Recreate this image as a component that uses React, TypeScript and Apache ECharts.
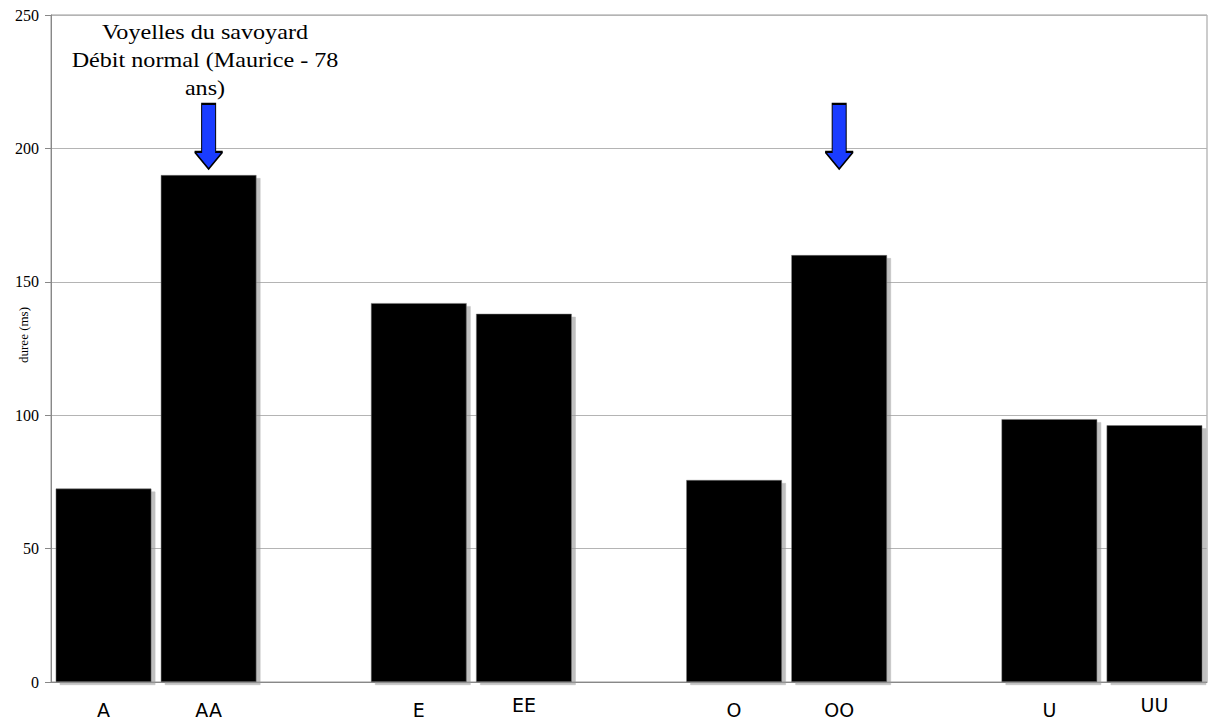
import React, { useEffect, useRef } from "react";
import * as echarts from "echarts";

const categories = ["A", "AA", " ", "E", "EE", "  ", "O", "OO", "   ", "U", "UU"];
const durations: (number | string)[] = [72.5, 190, "-", 142, 138, "-", 75.7, 160, "-", 98.5, 96.2];
const yTicks = { min: 0, max: 250, interval: 50 };
const raisedLabels = ["EE", "UU"];
const arrowCategories = ["AA", "OO"];
const arrowCenterValue = 204.5;
const titleLines = ["Voyelles du savoyard", "Débit normal (Maurice - 78", "ans)"];
const yName = "duree (ms)";

const arrowPath = "path://M7,0 L21,0 L21,48 L28,48 L14,65 L0,48 L7,48 Z";

export default function App() {
  const ref = useRef<HTMLDivElement>(null);
  useEffect(() => {
    if (!ref.current) return;
    const chart = echarts.init(ref.current, undefined, { renderer: "svg" });
    chart.setOption({
      animation: false,
      backgroundColor: "#ffffff",
      grid: {
        left: 51,
        right: 1,
        top: 15,
        bottom: 42,
        show: true,
        borderColor: "#999999",
        borderWidth: 1,
      },
      xAxis: {
        type: "category",
        data: categories,
        axisLine: { lineStyle: { color: "#888888", width: 1 } },
        axisTick: { show: false },
        axisLabel: {
          interval: 0,
          margin: 13,
          color: "#000000",
          fontFamily: "DejaVu Sans",
          fontSize: 19,
          formatter: (v: string) =>
            raisedLabels.includes(v) ? `{hi|${v}}` : `{lo|${v}}`,
          rich: {
            hi: { fontFamily: "DejaVu Sans", fontSize: 19, color: "#000", padding: [0, 0, 0, 0] },
            lo: { fontFamily: "DejaVu Sans", fontSize: 19, color: "#000", padding: [5, 0, 0, 0] },
          },
        },
      },
      yAxis: {
        type: "value",
        min: yTicks.min,
        max: yTicks.max,
        interval: yTicks.interval,
        axisLine: { show: true, lineStyle: { color: "#888888", width: 1 } },
        axisTick: { show: true, length: 6, lineStyle: { color: "#888888" } },
        axisLabel: {
          margin: 12,
          color: "#000000",
          fontFamily: "Liberation Serif",
          fontSize: 16,
        },
        splitLine: { show: true, lineStyle: { color: "#b4b4b4", width: 1 } },
      },
      series: [
        {
          type: "bar",
          data: durations,
          barCategoryGap: "9%",
          itemStyle: {
            color: "#000000",
            borderColor: "#777777",
            borderWidth: 0.5,
            shadowColor: "rgba(150,150,150,0.6)",
            shadowOffsetX: 4,
            shadowOffsetY: 3,
            shadowBlur: 1,
          },
          markPoint: {
            symbol: arrowPath,
            symbolSize: [28, 65],
            label: { show: false },
            itemStyle: {
              color: "#1a3cff",
              borderColor: "#000000",
              borderWidth: 1.5,
              borderJoin: "miter",
              shadowBlur: 0,
              shadowOffsetX: 0,
              shadowOffsetY: 0,
              shadowColor: "transparent",
            },
            data: arrowCategories.map((c) => ({ coord: [c, arrowCenterValue] })),
          },
        },
      ],
      graphic: [
        {
          type: "text",
          x: 205,
          y: 18,
          scaleX: 1.15,
          style: {
            text: titleLines.join("\n"),
            fontFamily: "Liberation Serif",
            fontSize: 21,
            lineHeight: 28,
            fill: "#000000",
            textAlign: "center",
            textVerticalAlign: "top",
          },
        },
        {
          type: "text",
          x: 23,
          y: 335,
          rotation: Math.PI / 2,
          style: {
            text: yName,
            fontFamily: "Liberation Serif",
            fontSize: 13,
            fill: "#000000",
            textAlign: "center",
            textVerticalAlign: "middle",
          },
        },
      ],
    });
    return () => chart.dispose();
  }, []);
  return (
    <div
      ref={ref}
      style={{ position: "fixed", left: 0, top: 0, width: 1208, height: 724 }}
    />
  );
}
